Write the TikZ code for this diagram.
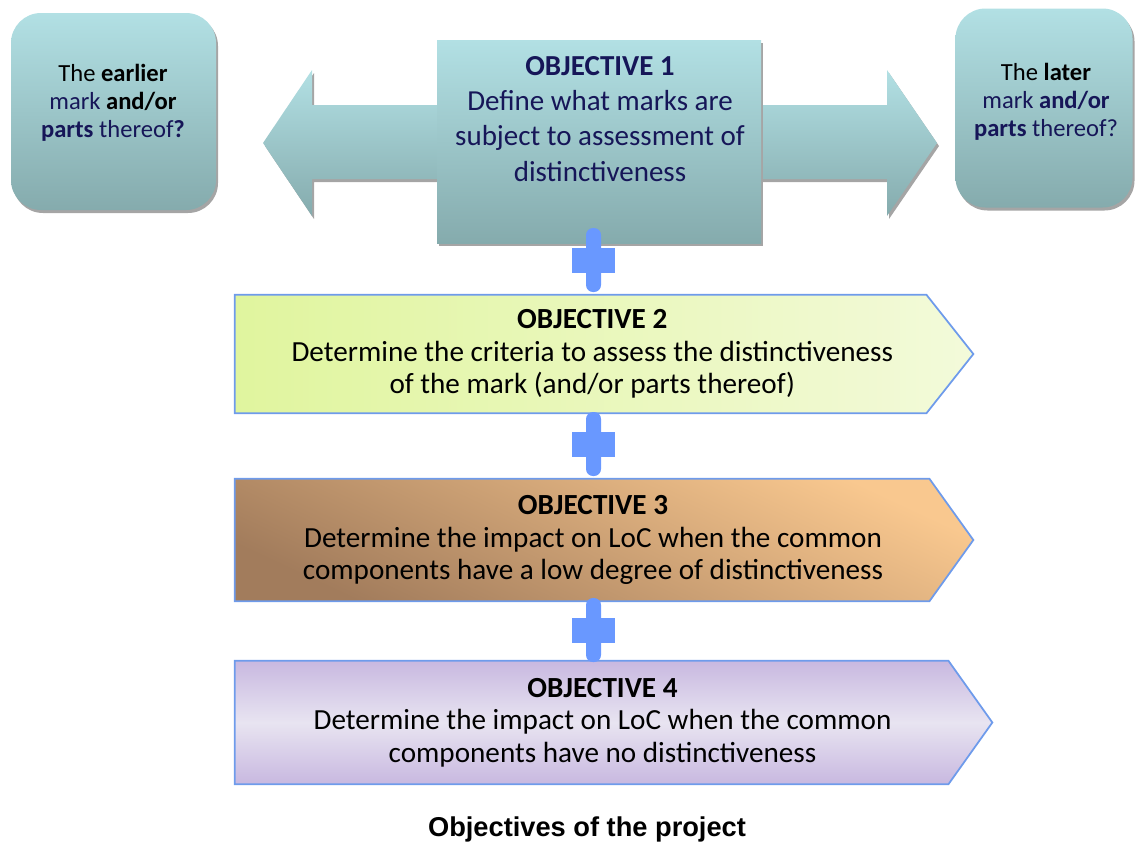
\documentclass[tikz,border=0pt]{standalone}
\usepackage{fontspec}
\setmainfont{Carlito}
\newfontfamily\captionfont{Liberation Sans}
\usetikzlibrary{shadows, backgrounds}

\definecolor{tealtop}{RGB}{178,224,228}
\definecolor{tealbot}{RGB}{133,171,173}
\definecolor{shadowgray}{RGB}{165,165,165}
\definecolor{navy}{RGB}{22,22,88}
\definecolor{edgeblue}{RGB}{110,155,235}
\definecolor{plusblue}{RGB}{105,152,255}
\definecolor{limeA}{RGB}{224,245,158}
\definecolor{limeB}{RGB}{243,250,218}
\definecolor{tanA}{RGB}{162,124,92}
\definecolor{tanB}{RGB}{249,200,143}
\definecolor{lavA}{RGB}{200,184,224}
\definecolor{lavB}{RGB}{232,228,241}

\tikzstyle{tealfill} = [top color=tealtop, bottom color=tealbot, general shadow={fill=shadowgray, shadow xshift=0.04cm, shadow yshift=-0.06cm}]
\tikzstyle{sidebox} = [rectangle, rounded corners=0.6cm, tealfill]
\tikzstyle{sidetext} = [align=center, text=navy, font=\fontsize{14}{16}\selectfont]
\tikzstyle{objhead} = [rectangle, minimum width=6.48cm, minimum height=4.06cm, tealfill]
\tikzstyle{objtext} = [align=center, text=navy, font=\fontsize{16.5}{20}\selectfont]
\tikzstyle{objbox} = [rectangle, align=center, font=\fontsize{16.6}{18.4}\selectfont]
\tikzstyle{outline} = [draw=edgeblue, line width=1pt]

\tikzset{plusmark/.pic={
  \fill[plusblue, rounded corners=0.14cm] (-0.15,-0.64) rectangle (0.15,0.64);
  \fill[plusblue] (-0.43,-0.25) rectangle (0.43,0.25);
}}

\newcommand{\objshape}[3]{%
  \path[outline, #3] (#1.north west) -- ([xshift=-#2]#1.north east) -- ([xshift=#2]#1.east)
    -- ([xshift=-#2]#1.south east) -- (#1.south west) -- cycle;}

\begin{document}
\begin{tikzpicture}
\useasboundingbox (0,0) rectangle (22.72,-16.88);

\node (earlier) [sidebox, minimum width=4.1cm, minimum height=3.94cm] at (2.27,-2.23) {};
\node (earliertext) [sidetext] at (2.26,-2.06) {{\color{black}The \textbf{earlier}}\\ mark {\color{black}\textbf{and/or}}\\ \textbf{parts} thereof\textbf{?}};
\node (later) [sidebox, minimum width=3.54cm, minimum height=3.98cm] at (20.88,-2.16) {};
\node (latertext) [sidetext] at (20.92,-2.04) {{\color{black}The \textbf{later}}\\ mark \textbf{and/or}\\ \textbf{parts} thereof?};

\node (obj1) [objhead] at (11.98,-2.83) {};
\node (obj1text) [objtext] at (12.0,-2.38) {\textbf{OBJECTIVE 1}\\ Define what marks are\\ subject to assessment of\\ distinctiveness};

\node (obj2) [objbox, minimum width=14.29cm, minimum height=2.36cm] at (11.845,-7.08) {\textbf{OBJECTIVE 2}\\ Determine the criteria to assess the distinctiveness\\ of the mark (and/or parts thereof)};
\node (obj3) [objbox, minimum width=14.32cm, minimum height=2.44cm] at (11.86,-10.8) {\textbf{OBJECTIVE 3}\\ Determine the impact on LoC when the common\\ components have a low degree of distinctiveness};
\node (obj4) [objbox, minimum width=14.7cm, minimum height=2.46cm] at (12.05,-14.45) {\textbf{OBJECTIVE 4}\\ Determine the impact on LoC when the common\\ components have no distinctiveness};

\node (caption) [font=\captionfont\bfseries\fontsize{15.5}{18}\selectfont] at (11.74,-16.58) {Objectives of the project};

\begin{scope}[on background layer]
\path[tealfill] (5.26,-2.86) -- (6.24,-1.40) -- (6.24,-2.10) -- (17.74,-2.10) -- (17.74,-1.40) -- (18.74,-2.86)
  -- (17.74,-4.32) -- (17.74,-3.58) -- (6.24,-3.58) -- (6.24,-4.32) -- cycle;
\objshape{obj2}{0.47cm}{left color=limeA, right color=limeB}
\objshape{obj3}{0.44cm}{top color=tanB, bottom color=tanA, shading angle=-25}
\objshape{obj4}{0.44cm}{top color=lavA, bottom color=lavA, middle color=lavB}
\end{scope}

\coordinate (p1) at (11.87,-5.2);
\coordinate (p2) at (11.87,-8.88);
\coordinate (p3) at (11.87,-12.6);
\pic at (p1) {plusmark};
\pic at (p2) {plusmark};
\pic at (p3) {plusmark};

\end{tikzpicture}
\end{document}
